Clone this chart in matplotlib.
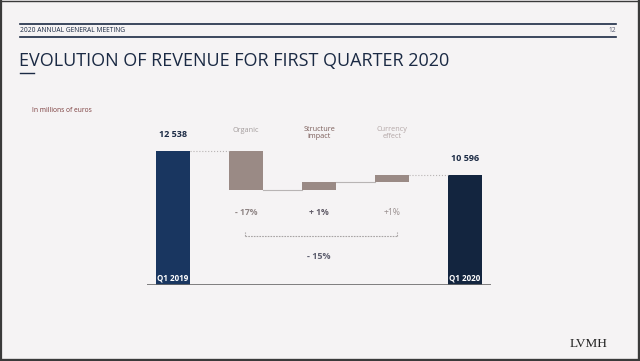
import matplotlib.pyplot as plt
from matplotlib.lines import Line2D
from matplotlib.patches import Rectangle

# values (millions of euros)
categories = ["Q1 2019", "Organic", "Structure\nimpact", "Currency\neffect", "Q1 2020"]
revenue_start = 12538
revenue_end = 10596
# running level after each bridge step (as drawn on the slide)
step_levels = [9380, 10000, 10596]
step_labels = ["- 17%", "+ 1%", "+1%"]
total_change = "- 15%"

FONT = "Open Sans"
BG = "#f5f3f4"
NAVY = "#1b2a44"

fig = plt.figure(figsize=(6.4, 3.61), dpi=100, facecolor=BG)


def fy(py):
    return 1 - py / 361


def fx(px):
    return px / 640


# slide frame (thin on top, heavier on the other sides)
fig.add_artist(Line2D([0, 1], [fy(0.5), fy(0.5)], color="#3a3a3a", lw=1.0))
fig.add_artist(Line2D([fx(1), fx(1)], [0, 1], color="#3a3a3a", lw=1.6))
fig.add_artist(Line2D([fx(638.5), fx(638.5)], [0, 1], color="#3a3a3a", lw=2.4))
fig.add_artist(Line2D([0, 1], [fy(359.5), fy(359.5)], color="#3a3a3a", lw=2.4))

# header band
for py in (24, 37):
    fig.add_artist(Line2D([fx(20), fx(616)], [fy(py), fy(py)], color=NAVY, lw=1.2))
fig.text(fx(20), fy(31), "2020 ANNUAL GENERAL MEETING", fontsize=4.8, color=NAVY,
         family=FONT, va="center", ha="left")
fig.text(fx(616), fy(31), "12", fontsize=4.8, color="#555a70", family=FONT,
         va="center", ha="right")
fig.text(fx(19), fy(61), "EVOLUTION OF REVENUE FOR FIRST QUARTER 2020", fontsize=13,
         color=NAVY, family=FONT, va="center", ha="left")
fig.add_artist(Line2D([fx(20), fx(34)], [fy(73), fy(73)], color=NAVY, lw=1.0))
fig.text(fx(32), fy(110), "In millions of euros", fontsize=4.8, color="#7a3b3b",
         family=FONT, va="center", ha="left")
fig.text(fx(607), fy(344), "LVMH", fontsize=9.5, color="#222222",
         family="Liberation Serif", va="center", ha="right")

# chart axes
ymin = 1700
ax = fig.add_axes([fx(147), fy(285), fx(344), 185 / 361])
ax.set_facecolor("none")
ax.set_xlim(-0.356, 4.356)
ax.set_ylim(ymin, ymin + 185 * 80.9)
ax.axis("off")

width = 0.466
levels = [revenue_start] + step_levels

# total bars
ax.bar(0, revenue_start - ymin, bottom=ymin, width=width, color="#193660")
ax.bar(4, revenue_end - ymin, bottom=ymin, width=width, color="#13253f")

# bridge bars
for i in range(3):
    lo = min(levels[i], levels[i + 1])
    hi = max(levels[i], levels[i + 1])
    ax.bar(i + 1, hi - lo, bottom=lo, width=width, color="#9a8a85")

# connectors
conn_styles = [":", "-", "-", ":"]
for i in range(4):
    ax.plot([i + width / 2, i + 1 - width / 2], [levels[i], levels[i]],
            color="#b8b4b4", lw=0.8, ls=conn_styles[i])

# baseline
ax.axhline(ymin, color="#6a6a6a", lw=1.2)

# value labels on totals
ax.text(0, revenue_start + 1300, f"{revenue_start:,}".replace(",", " "), ha="center",
        va="center", fontsize=6.5, fontweight="bold", color=NAVY, family=FONT)
ax.text(4, revenue_end + 1300, f"{revenue_end:,}".replace(",", " "), ha="center",
        va="center", fontsize=6.5, fontweight="bold", color=NAVY, family=FONT)

# names inside totals
for x, name in ((0, categories[0]), (4, categories[4])):
    ax.text(x, ymin + 550, name, ha="center", va="center", fontsize=5.8,
            fontweight="bold", color="white", family=FONT)

# step names above
name_colors = ["#a39c9c", "#7a5c58", "#b3a6a6"]
name_y = [1650, 1440, 1440]
for i in range(3):
    ax.text(i + 1, revenue_start + name_y[i], categories[i + 1], ha="center", va="center",
            fontsize=5.2, color=name_colors[i], family=FONT, linespacing=0.95)

# step percentages
pct_colors = ["#8f8585", "#5f5a66", "#9a9090"]
pct_weights = ["bold", "bold", "normal"]
for i in range(3):
    ax.text(i + 1, 7600, step_labels[i], ha="center", va="center", fontsize=6.2,
            fontweight=pct_weights[i], color=pct_colors[i], family=FONT)

# bracket for total change
yb = 5700
xl, xr = 0.986, 3.07
ax.plot([xl, xr], [yb, yb], color="#a8a4a4", lw=0.8, ls=(0, (1.5, 1)))
for xb in (xl, xr):
    ax.plot([xb, xb], [yb, yb + 320], color="#a8a4a4", lw=0.8, ls=(0, (1.5, 1)))
ax.text(2, 4000, total_change, ha="center", va="center", fontsize=6.5,
        fontweight="bold", color="#5f6070", family=FONT)

fig.savefig("out.png", dpi=100, facecolor=BG)
